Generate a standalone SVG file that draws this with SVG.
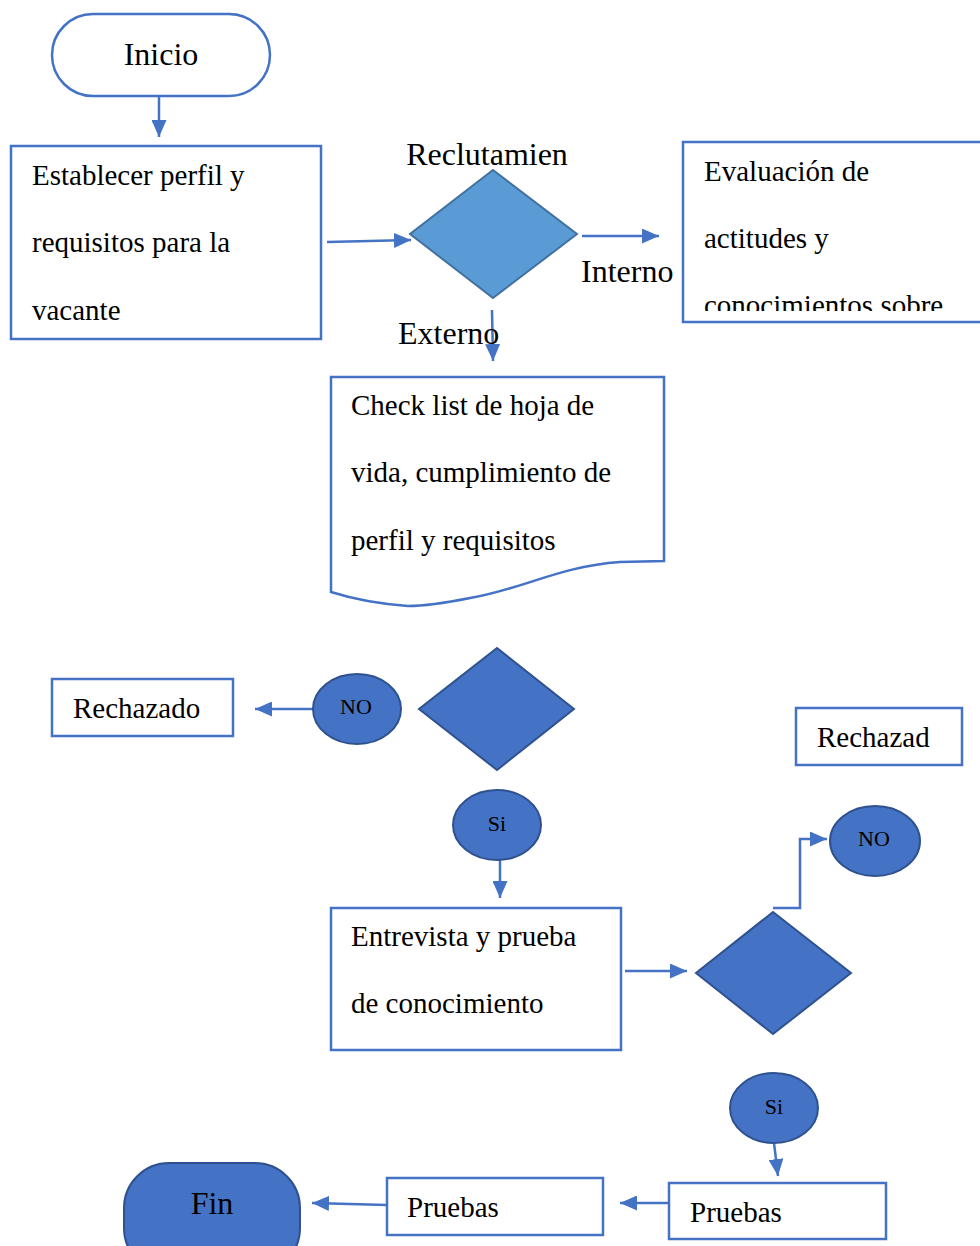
<svg xmlns="http://www.w3.org/2000/svg" width="980" height="1246" viewBox="0 0 980 1246">
  <style>
    .box { fill: #ffffff; stroke: #4472C4; stroke-width: 2.5; }
    .dec { fill: #4472C4; stroke: #2F528F; stroke-width: 2; }
    .dec-light { fill: #5B9BD5; stroke: #41719C; stroke-width: 2; }
    text { font-family: 'Liberation Serif', 'DejaVu Serif', serif; font-size: 29px; fill: #000000; }
    .big { font-size: 32px; }
    .small { font-size: 22px; }
    .mid { text-anchor: middle; }
    .conn { fill: none; stroke: #4472C4; stroke-width: 2.5; }
  </style>
  <defs>
    <marker id="arrow" viewBox="0 0 10 10" refX="10" refY="5" markerWidth="17" markerHeight="15" markerUnits="userSpaceOnUse" orient="auto" preserveAspectRatio="none">
      <path d="M0,0 L10,5 L0,10 Z" fill="#4472C4"/>
    </marker>
    <clipPath id="evalClip">
      <rect x="684" y="143" width="296" height="168"/>
    </clipPath>
  </defs>
  <rect width="980" height="1246" fill="#ffffff"/>

  <g id="connectors">
    <line class="conn" x1="159" y1="96" x2="159" y2="137" marker-end="url(#arrow)"/>
    <line class="conn" x1="327" y1="242" x2="411" y2="240" marker-end="url(#arrow)"/>
    <line class="conn" x1="582" y1="236" x2="659" y2="236" marker-end="url(#arrow)"/>
    <line class="conn" x1="492" y1="310" x2="493" y2="361" marker-end="url(#arrow)"/>
    <line class="conn" x1="313" y1="709" x2="255" y2="709" marker-end="url(#arrow)"/>
    <line class="conn" x1="500" y1="860" x2="500" y2="898" marker-end="url(#arrow)"/>
    <line class="conn" x1="625" y1="971" x2="687" y2="971" marker-end="url(#arrow)"/>
    <polyline class="conn" points="773,908 800,908 800,839 827,839" marker-end="url(#arrow)"/>
    <line class="conn" x1="774" y1="1143" x2="778" y2="1176" marker-end="url(#arrow)"/>
    <line class="conn" x1="669" y1="1203" x2="620" y2="1203" marker-end="url(#arrow)"/>
    <line class="conn" x1="387" y1="1205" x2="312" y2="1203" marker-end="url(#arrow)"/>
  </g>

  <g id="inicio">
    <rect class="box" x="52" y="14" width="218" height="82" rx="41" ry="41"/>
    <text class="big mid" x="161" y="65">Inicio</text>
  </g>

  <g id="perfil">
    <rect class="box" x="11" y="146" width="310" height="193"/>
    <text x="32" y="185">Establecer perfil y</text>
    <text x="32" y="252">requisitos para la</text>
    <text x="32" y="320">vacante</text>
  </g>

  <g id="reclutamiento">
    <polygon class="dec-light" points="493,170 577,234 493,298 410,234"/>
    <text class="big mid" x="487" y="165">Reclutamien</text>
    <text class="big" x="581" y="282">Interno</text>
    <text class="big" x="398" y="344">Externo</text>
  </g>

  <g id="evaluacion">
    <rect class="box" x="683" y="142" width="310" height="180"/>
    <g clip-path="url(#evalClip)">
      <text x="704" y="181">Evaluación de</text>
      <text x="704" y="248">actitudes y</text>
      <text x="704" y="315">conocimientos sobre</text>
    </g>
  </g>

  <g id="checklist">
    <path class="box" d="M331,377 L664,377 L664,561 L620,562 C560,566 520,590 470,598 C440,604 420,606 408,606 C380,604 350,598 331,592 Z"/>
    <text x="351" y="415">Check list de hoja de</text>
    <text x="351" y="482">vida, cumplimiento de</text>
    <text x="351" y="550">perfil y requisitos</text>
  </g>

  <g id="decision-perfil">
    <polygon class="dec" points="497,648 574,709 497,770 419,709"/>
  </g>

  <g id="no-perfil">
    <ellipse class="dec" cx="357" cy="709" rx="44" ry="35"/>
    <text class="small mid" x="356" y="714">NO</text>
  </g>

  <g id="rechazado">
    <rect class="box" x="52" y="679" width="181" height="57"/>
    <text x="73" y="718">Rechazado</text>
  </g>

  <g id="si-perfil">
    <ellipse class="dec" cx="497" cy="825" rx="44" ry="35"/>
    <text class="small mid" x="497" y="831">Si</text>
  </g>

  <g id="entrevista">
    <rect class="box" x="331" y="908" width="290" height="142"/>
    <text x="351" y="946">Entrevista y prueba</text>
    <text x="351" y="1013">de conocimiento</text>
  </g>

  <g id="decision-entrevista">
    <polygon class="dec" points="773,912 851,973 773,1034 696,973"/>
  </g>

  <g id="no-entrevista">
    <ellipse class="dec" cx="875" cy="841" rx="45" ry="35"/>
    <text class="small mid" x="874" y="846">NO</text>
  </g>

  <g id="rechazad">
    <rect class="box" x="796" y="708" width="166" height="57"/>
    <text x="817" y="747">Rechazad</text>
  </g>

  <g id="si-entrevista">
    <ellipse class="dec" cx="774" cy="1108" rx="44" ry="35"/>
    <text class="small mid" x="774" y="1114">Si</text>
  </g>

  <g id="pruebas-1">
    <rect class="box" x="669" y="1183" width="217" height="56"/>
    <text x="690" y="1222">Pruebas</text>
  </g>

  <g id="pruebas-2">
    <rect class="box" x="387" y="1178" width="216" height="57"/>
    <text x="407" y="1217">Pruebas</text>
  </g>

  <g id="fin">
    <rect class="dec" x="124" y="1163" width="176" height="110" rx="45" ry="45"/>
    <text class="big mid" x="212" y="1214">Fin</text>
  </g>
</svg>
